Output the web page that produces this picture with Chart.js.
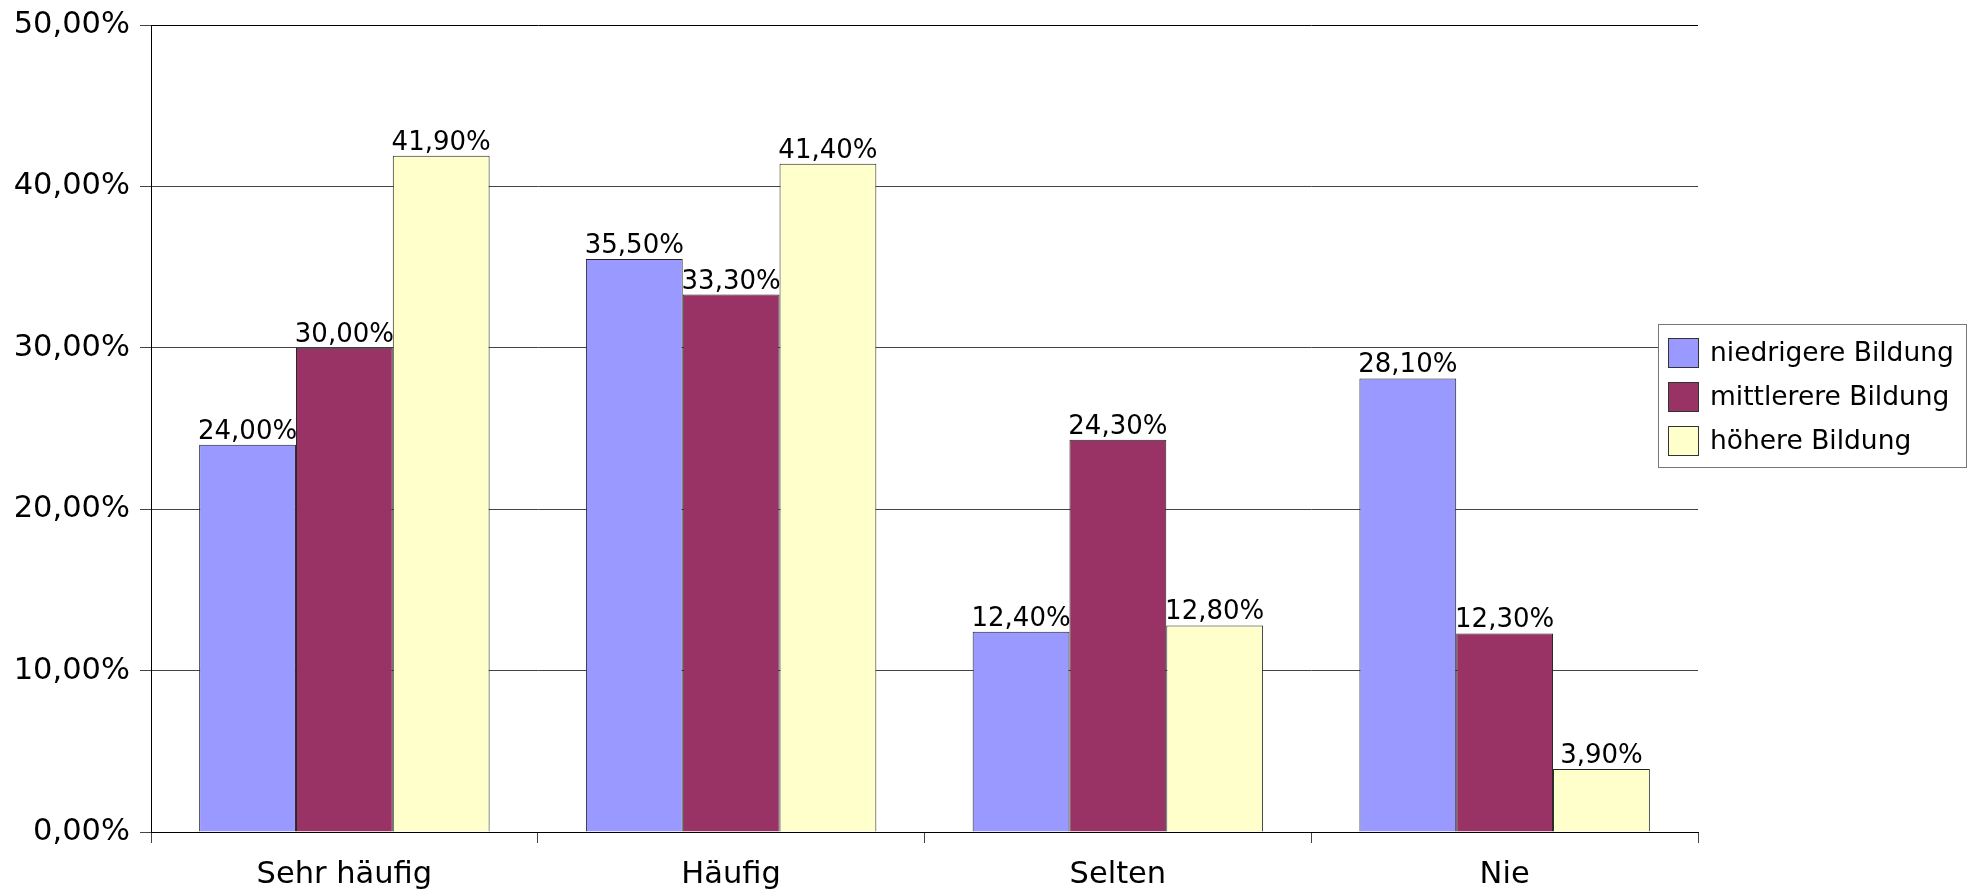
<!DOCTYPE html>
<html lang="de">
<head>
<meta charset="utf-8">
<title>Bildung</title>
<script src="https://cdn.jsdelivr.net/npm/chart.js@4/dist/chart.umd.min.js"></script>
<style>
  html, body { margin: 0; padding: 0; background: #fff; }
  #wrap { width: 1971px; height: 890px; position: relative; }
</style>
</head>
<body>
<div id="wrap"><canvas id="chart" width="1971" height="890"></canvas></div>
<script>
const categories = ['Sehr häufig', 'Häufig', 'Selten', 'Nie'];
const seriesNames = ['niedrigere Bildung', 'mittlerere Bildung', 'höhere Bildung'];
const niedrig = [24.0, 35.5, 12.4, 28.1];
const mittel = [30.0, 33.3, 24.3, 12.3];
const hoch = [41.9, 41.4, 12.8, 3.9];
const yTicks = [0, 10, 20, 30, 40, 50];

const colors = ['#9999ff', '#993366', '#ffffcc'];
const FONT = "'DejaVu Sans', Verdana, sans-serif";

function pct(v) {
  return v.toFixed(2).replace('.', ',') + '%';
}

// value labels above the bars
const barLabels = {
  id: 'barLabels',
  afterDatasetsDraw(chart) {
    const ctx = chart.ctx;
    ctx.save();
    ctx.font = `26px ${FONT}`;
    ctx.fillStyle = '#000';
    ctx.textAlign = 'center';
    ctx.textBaseline = 'alphabetic';
    chart.data.datasets.forEach((ds, i) => {
      chart.getDatasetMeta(i).data.forEach((bar, j) => {
        ctx.fillText(pct(ds.data[j]), bar.x, bar.y - 6);
      });
    });
    ctx.restore();
  }
};

// boxed legend on the right, like the office chart
const sideLegend = {
  id: 'sideLegend',
  afterDraw(chart) {
    const ctx = chart.ctx;
    const box = { x: 1658, y: 324, w: 308, h: 143 };
    ctx.save();
    // gridline at 30 % runs on to the legend
    const y30 = Math.round(chart.scales.y.getPixelForValue(30)) + 0.5;
    ctx.strokeStyle = '#444';
    ctx.lineWidth = 1;
    ctx.beginPath();
    ctx.moveTo(chart.chartArea.right, y30);
    ctx.lineTo(box.x + 10, y30);
    ctx.stroke();

    ctx.fillStyle = '#fff';
    ctx.fillRect(box.x, box.y, box.w, box.h);
    ctx.strokeStyle = '#777';
    ctx.strokeRect(box.x + 0.5, box.y + 0.5, box.w, box.h);

    ctx.font = `26.5px ${FONT}`;
    ctx.textBaseline = 'middle';
    ctx.textAlign = 'left';
    chart.data.datasets.forEach((ds, i) => {
      const sy = box.y + 14 + i * 44;
      ctx.fillStyle = ds.backgroundColor;
      ctx.fillRect(box.x + 10, sy, 31, 30);
      ctx.strokeStyle = '#333';
      ctx.strokeRect(box.x + 10.5, sy + 0.5, 30, 29);
      ctx.fillStyle = '#000';
      ctx.fillText(ds.label, box.x + 52, sy + 16);
    });
    ctx.restore();
  }
};

const datasets = [niedrig, mittel, hoch].map((values, i) => ({
  label: seriesNames[i],
  data: values,
  backgroundColor: colors[i],
  borderColor: '#222',
  borderWidth: 1,
  categoryPercentage: 0.751,
  barPercentage: 1.0
}));

Chart.defaults.font.family = FONT;
Chart.defaults.color = '#000';

new Chart(document.getElementById('chart'), {
  type: 'bar',
  data: { labels: categories, datasets },
  options: {
    responsive: false,
    animation: false,
    layout: { padding: { top: 25, right: 273, left: 0, bottom: 0 } },
    plugins: {
      legend: { display: false },
      tooltip: { enabled: false }
    },
    scales: {
      x: {
        grid: {
          offset: true,
          drawOnChartArea: false,
          drawTicks: true,
          tickLength: 11,
          tickColor: '#444'
        },
        border: { color: '#000', width: 1 },
        ticks: { font: { size: 30.5 }, padding: 14, color: '#000' },
        afterFit(scale) { scale.height = 58; }
      },
      y: {
        min: 0,
        max: 50,
        afterBuildTicks(scale) { scale.ticks = yTicks.map(v => ({ value: v })); },
        grid: {
          color: ctx => (ctx.tick && ctx.tick.value === 50 ? '#000' : '#444'),
          tickLength: 11,
          tickColor: '#444'
        },
        border: { color: '#000', width: 1 },
        ticks: {
          font: { size: 30.5, lineHeight: 0.8 },
          padding: 10,
          color: '#000',
          callback: v => pct(v)
        },
        afterFit(scale) { scale.width = 151; }
      }
    }
  },
  plugins: [barLabels, sideLegend]
});
</script>
</body>
</html>
